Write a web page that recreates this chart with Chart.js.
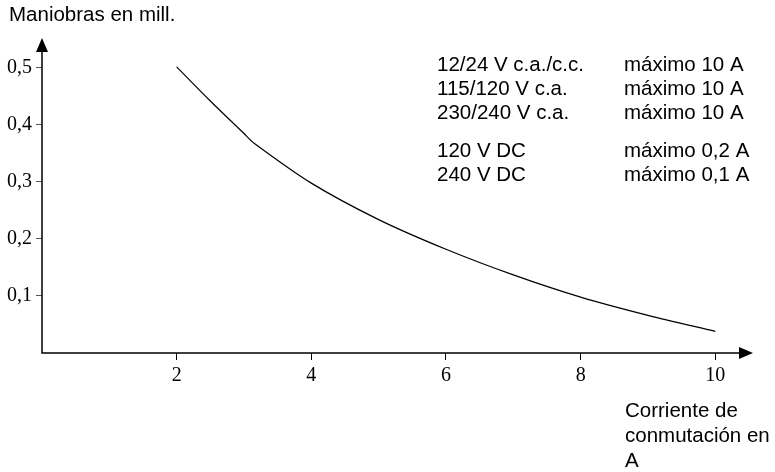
<!DOCTYPE html>
<html>
<head>
<meta charset="utf-8">
<script src="https://cdn.jsdelivr.net/npm/chart.js@4"></script>
<style>
    body { margin: 0; background: #fff; }
    #wrap { position: relative; width: 775px; height: 472px; }
</style>
</head>
<body>
<div id="wrap"><canvas id="lifeChart" width="775" height="472"></canvas></div>
<script>
// curve
const currentA = [2, 2.5, 3, 3.15, 4, 5, 6, 7, 8, 9, 10];
const operationsMill = [0.502, 0.442, 0.385, 0.368, 0.298, 0.234, 0.182, 0.137, 0.098, 0.066, 0.038];
const xTicks = [2, 4, 6, 8, 10];
const yTicks = [0.1, 0.2, 0.3, 0.4, 0.5];

const voltageLabels = ['12/24 V c.a./c.c.', '115/120 V c.a.', '230/240 V c.a.', '120 V DC', '240 V DC'];
const maxCurrentLabels = ['máximo 10 A', 'máximo 10 A', 'máximo 10 A', 'máximo 0,2 A', 'máximo 0,1 A'];
const yAxisTitle = 'Maniobras en mill.';
const xAxisTitle = ['Corriente de', 'conmutación en', 'A'];

const sansFont = '"Liberation Sans", Arial, sans-serif';
const serifFont = '"Liberation Serif", "Times New Roman", serif';

// draws the arrowed axes and the loose texts
const axesAndTexts = {
    id: 'axesAndTexts',
    afterDraw(chart) {
        const c = chart.ctx;
        const a = chart.chartArea;
        c.save();
        c.strokeStyle = '#000';
        c.fillStyle = '#000';
        c.lineWidth = 1.5;
        c.beginPath();
        c.moveTo(a.left, a.top + 10);
        c.lineTo(a.left, a.bottom);
        c.lineTo(a.right - 10, a.bottom);
        c.stroke();
        // arrow heads
        c.beginPath();
        c.moveTo(a.left, a.top);
        c.lineTo(a.left - 6, a.top + 14);
        c.lineTo(a.left + 6, a.top + 14);
        c.closePath();
        c.fill();
        c.beginPath();
        c.moveTo(a.right, a.bottom);
        c.lineTo(a.right - 14, a.bottom - 6);
        c.lineTo(a.right - 14, a.bottom + 6);
        c.closePath();
        c.fill();

        c.font = '20.5px ' + sansFont;
        c.textBaseline = 'middle';
        c.textAlign = 'left';
        c.fillText(yAxisTitle, 9, 15);
        const rowY = [65, 89, 113, 151, 175];
        voltageLabels.forEach((t, i) => c.fillText(t, 437, rowY[i]));
        maxCurrentLabels.forEach((t, i) => c.fillText(t, 624, rowY[i]));
        xAxisTitle.forEach((t, i) => c.fillText(t, 625, 411 + i * 25));
        c.restore();
    }
};

const ctx = document.getElementById('lifeChart').getContext('2d');
const lifeChart = new Chart(ctx, {
    type: 'line',
    data: {
        datasets: [{
            data: currentA.map((x, i) => ({ x: x, y: operationsMill[i] })),
            borderColor: '#000',
            borderWidth: 1.2,
            pointRadius: 0,
            tension: 0.3,
            fill: false
        }]
    },
    options: {
        responsive: false,
        animation: false,
        layout: { padding: { top: 38, right: 22, left: 0, bottom: 0 } },
        plugins: { legend: { display: false }, tooltip: { enabled: false } },
        scales: {
            x: {
                type: 'linear',
                min: 0,
                max: 10.56,
                afterBuildTicks: s => { s.ticks = xTicks.map(v => ({ value: v })); },
                afterFit: s => { s.height = 119; },
                border: { display: false },
                grid: { drawOnChartArea: false, tickLength: 7, color: '#000', lineWidth: 1 },
                ticks: {
                    color: '#000',
                    padding: 4,
                    font: { family: serifFont, size: 20 },
                    callback: v => String(v)
                }
            },
            y: {
                min: 0,
                max: 0.5526,
                afterBuildTicks: s => { s.ticks = yTicks.map(v => ({ value: v })); },
                afterFit: s => { s.width = 42; },
                border: { display: false },
                grid: { drawOnChartArea: false, tickLength: 6, color: '#555', lineWidth: 1 },
                ticks: {
                    color: '#000',
                    padding: 4,
                    font: { family: serifFont, size: 20 },
                    callback: v => v.toFixed(1).replace('.', ',')
                }
            }
        }
    },
    plugins: [axesAndTexts]
});
</script>
</body>
</html>
